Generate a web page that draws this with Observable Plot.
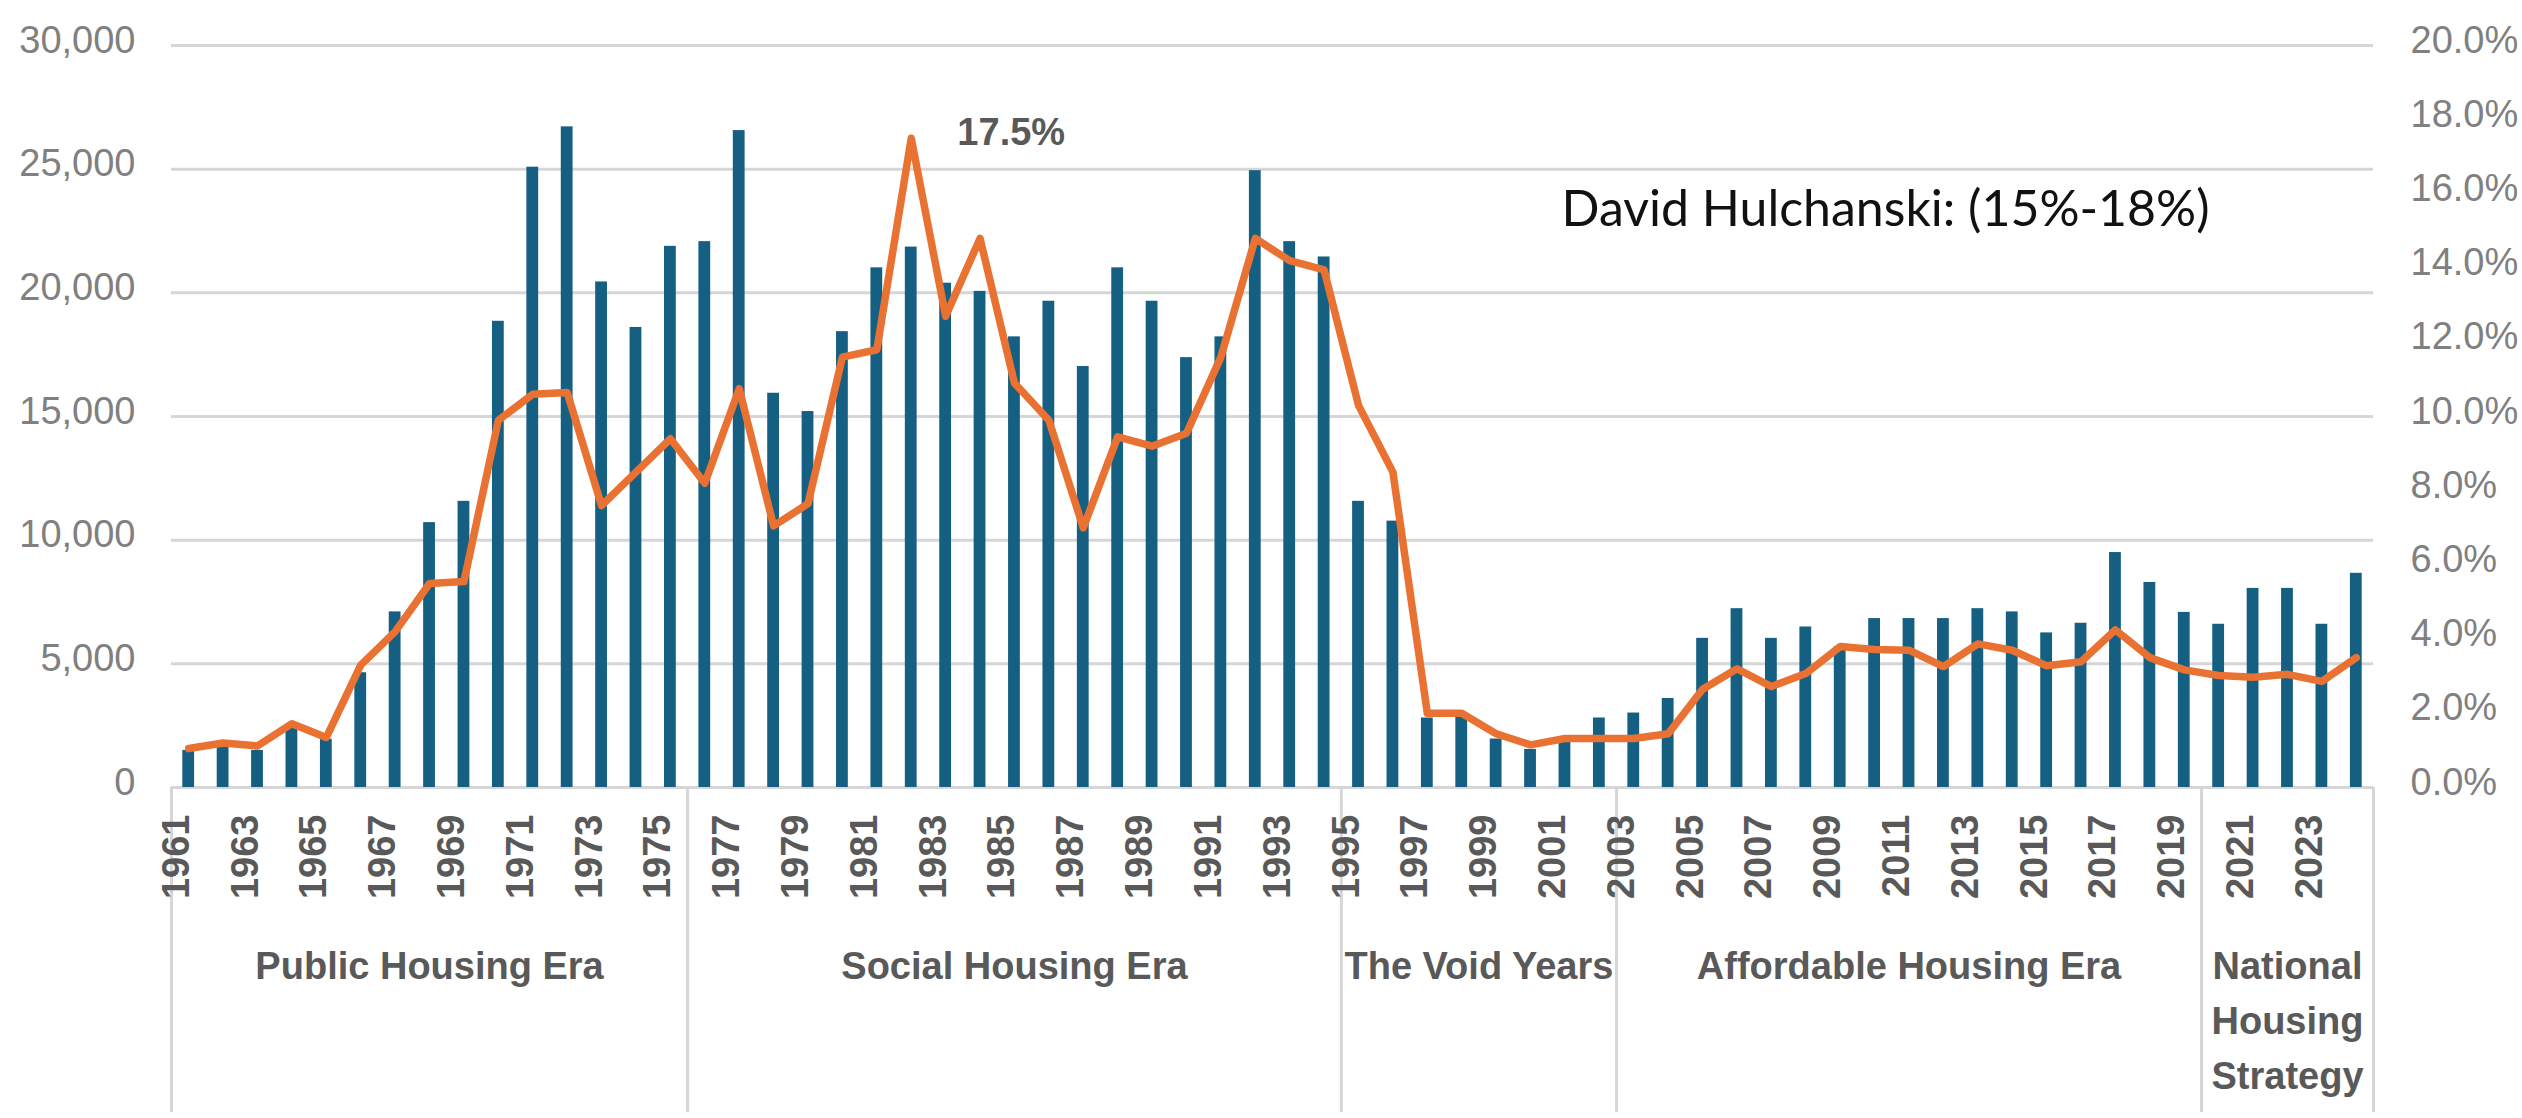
<!DOCTYPE html>
<html>
<head>
<meta charset="utf-8">
<script src="https://cdn.jsdelivr.net/npm/d3@7"></script>
<script src="https://cdn.jsdelivr.net/npm/@observablehq/plot@0.6"></script>
<style>
  html, body { margin: 0; padding: 0; background: #ffffff; overflow: hidden; }
  #chart svg { display: block; }
</style>
</head>
<body>
<div id="chart"></div>
<script>
// Housing starts (units) and share of all starts (%), 1961–2024
const years = d3.range(1961, 2025);

const units = [
  1500, 1650, 1500, 2450, 1950, 4640, 7100, 10710, 11570, 18850,
  25080, 26710, 20440, 18600, 21880, 22070, 26560, 15940, 15200, 18430,
  21010, 21850, 20390, 20060, 18220, 19660, 17020, 21010, 19660, 17380,
  18220, 24940, 22070, 21450, 11570, 10770, 2810, 3020, 1960, 1540,
  1850, 2810, 3010, 3600, 6030, 7230, 6030, 6490, 5700, 6830,
  6830, 6830, 7230, 7100, 6250, 6640, 9500, 8290, 7080, 6600,
  8050, 8050, 6600, 8660
];

const share = [
  1.05, 1.2, 1.12, 1.72, 1.35, 3.3, 4.2, 5.5, 5.55, 9.9,
  10.6, 10.65, 7.6, 8.5, 9.4, 8.2, 10.75, 7.05, 7.65, 11.6,
  11.8, 17.5, 12.7, 14.8, 10.9, 9.9, 7.0, 9.45, 9.2, 9.55,
  11.6, 14.8, 14.2, 13.95, 10.3, 8.5, 2.0, 2.0, 1.45, 1.15,
  1.32, 1.32, 1.32, 1.45, 2.65, 3.2, 2.72, 3.07, 3.8, 3.72,
  3.7, 3.26, 3.87, 3.7, 3.28, 3.39, 4.25, 3.5, 3.17, 3.02,
  2.97, 3.05, 2.86, 3.5
];

// Policy eras along the category axis
const eraNames = ["Public Housing Era", "Social Housing Era", "The Void Years", "Affordable Housing Era", "National\nHousing\nStrategy"];
const eraStart = [1961, 1976, 1995, 2003, 2020];
const eraEnd   = [1975, 1994, 2002, 2019, 2024];

// Axis ticks
const unitTicks = [0, 5000, 10000, 15000, 20000, 25000, 30000];
const shareTicks = [0, 2, 4, 6, 8, 10, 12, 14, 16, 18, 20];
const yearTicks = years.filter(y => y % 2 === 1);

const annotation = "David Hulchanski: (15%-18%)";

// The share series is drawn against the unit axis: 20% ↔ 30,000
const shareToUnits = 30000 / 20;

const data = years.map((year, i) => ({year, units: units[i], share: share[i]}));
const eras = eraNames.map((name, i) => ({name, start: eraStart[i], end: eraEnd[i]}));
const eraBounds = [eraStart[0] - 0.5, ...eraEnd.map(e => e + 0.5)];
const peak = d3.greatest(data, d => d.share);

const W = 2522, H = 1118;
const mL = 171, mR = 149, mT = 45, mB = 331;
const frameH = H - mT - mB;

const gray = "#d6d6d6";
const labelFont = "'Liberation Sans', Arial, sans-serif";

const chart = Plot.plot({
  width: W,
  height: H,
  marginLeft: mL,
  marginRight: mR,
  marginTop: mT,
  marginBottom: mB,
  style: {background: "#ffffff", fontFamily: labelFont, overflow: "visible"},
  x: {domain: [1960.5, 2024.5], axis: null},
  y: {domain: [0, 30000], axis: null},
  marks: [
    // horizontal gridlines
    Plot.ruleY(unitTicks.filter(v => v > 0), {stroke: gray, strokeWidth: 3}),
    // category box: baseline and era separators below the frame
    Plot.ruleY([0], {stroke: gray, strokeWidth: 3}),
    Plot.ruleX(eraBounds, {stroke: gray, strokeWidth: 3, insetTop: frameH, insetBottom: -325}),
    // columns
    Plot.rectY(data, {
      x1: d => d.year - 0.5,
      x2: d => d.year + 0.5,
      y: "units",
      fill: "#156082",
      insetLeft: 11.3,
      insetRight: 11.3
    }),
    // share line
    Plot.line(data, {
      x: "year",
      y: d => d.share * shareToUnits,
      stroke: "#E97132",
      strokeWidth: 7.5,
      strokeLinejoin: "round",
      strokeLinecap: "round"
    }),
    // peak label
    Plot.text([peak], {
      x: "year",
      y: d => d.share * shareToUnits,
      text: d => d.share.toFixed(1) + "%",
      dx: 100,
      dy: -5,
      fontSize: 38,
      fontWeight: 700,
      fill: "#595959"
    }),
    // left axis (units)
    Plot.axisY(unitTicks, {
      anchor: "left",
      tickSize: 0,
      tickPadding: 36,
      tickFormat: d3.format(","),
      fontSize: 38,
      fill: "#808080",
      dy: -5,
      label: null
    }),
    // right axis (share)
    Plot.axisY(shareTicks.map(p => p * shareToUnits), {
      anchor: "right",
      tickSize: 0,
      tickPadding: 37,
      tickFormat: d => (d / shareToUnits).toFixed(1) + "%",
      fontSize: 38,
      fill: "#808080",
      dy: -5,
      label: null
    }),
    // year labels, rotated
    Plot.text(yearTicks, {
      x: d => d,
      text: d => String(d),
      frameAnchor: "bottom",
      rotate: -90,
      textAnchor: "end",
      dy: 27,
      fontSize: 38,
      fontWeight: 700,
      fill: "#595959"
    }),
    // era labels
    Plot.text(eras, {
      x: d => (d.start + d.end) / 2,
      text: "name",
      frameAnchor: "bottom",
      lineAnchor: "top",
      lineHeight: 1.45,
      dy: 152,
      fontSize: 38,
      fontWeight: 700,
      fill: "#595959"
    }),
    // annotation
    Plot.text([annotation], {
      frameAnchor: "top-left",
      text: d => d,
      textAnchor: "start",
      dx: 1561 - mL,
      dy: 145,
      fontSize: 50,
      fontFamily: "Lato, 'Noto Sans', sans-serif",
      fill: "#111111"
    })
  ]
});

document.getElementById("chart").appendChild(chart);
</script>
</body>
</html>
